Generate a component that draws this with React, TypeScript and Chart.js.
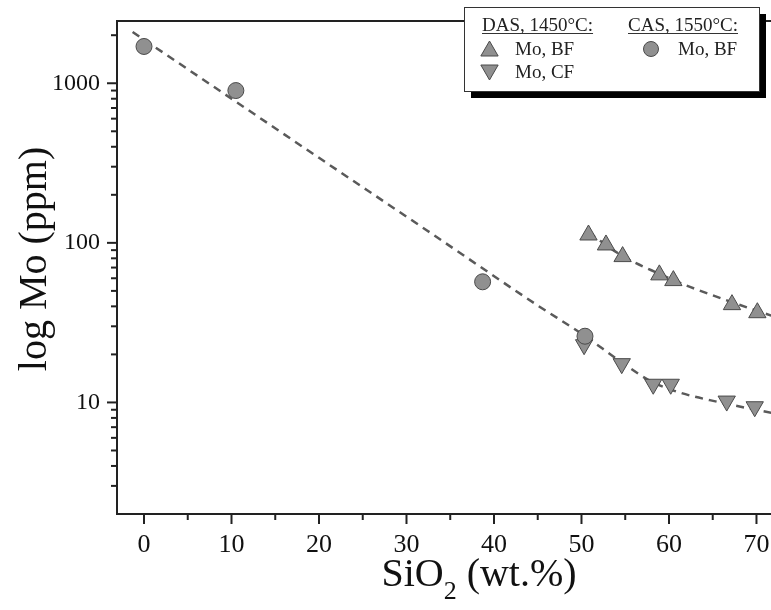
import React, { useEffect, useRef } from 'react';
import { Chart, registerables } from 'chart.js';

Chart.register(...registerables);

// ---- data ----
const CAS_BF_X = [0, 10.5, 38.7, 50.4];
const CAS_BF_Y = [1700, 900, 57, 26];

const DAS_BF_X = [50.8, 52.8, 54.7, 58.9, 60.5, 67.2, 70.1];
const DAS_BF_Y = [112, 97, 82, 63, 58, 41, 36.5];

const DAS_CF_X = [50.3, 54.6, 58.2, 60.2, 66.6, 69.8];
const DAS_CF_Y = [23, 17.5, 13, 13, 10.2, 9.4];

const FIT_LOW_X = [-1.3, 10, 20, 32.3, 45, 50, 55, 58, 61.3, 65.5, 71.7];
const FIT_LOW_Y = [2094, 800, 341, 120, 40.5, 27, 17.2, 13.5, 11.5, 10.1, 8.6];

const FIT_HIGH_X = [50.8, 54.8, 58.9, 62.4, 67.2, 71.7];
const FIT_HIGH_Y = [116, 82, 64, 53, 42.5, 35];

const X_MAJOR_TICKS = [0, 10, 20, 30, 40, 50, 60, 70];
const X_MINOR_TICKS = [5, 15, 25, 35, 45, 55, 65];
const Y_MAJOR_TICKS = [10, 100, 1000];
const Y_MINOR_TICKS = [3, 4, 5, 6, 7, 8, 9, 20, 30, 40, 50, 60, 70, 80, 90, 200, 300, 400, 500, 600, 700, 800, 900, 2000];

const X_TITLE_MAIN = 'SiO';
const X_TITLE_SUB = '2';
const X_TITLE_REST = ' (wt.%)';
const Y_TITLE = 'log Mo (ppm)';
const LEGEND_HEAD_1 = 'DAS, 1450°C:';
const LEGEND_HEAD_2 = 'CAS, 1550°C:';
const LEGEND_BF = 'Mo, BF';
const LEGEND_CF = 'Mo, CF';

const FONT = "'Liberation Serif', 'Times New Roman', serif";
const MARKER_FILL = '#909090';
const MARKER_EDGE = '#4a4a4a';
const FIT_COLOR = '#5a5a5a';

const pts = (xs: number[], ys: number[]) => xs.map((x, i) => ({ x, y: ys[i] }));

function triangle(ctx: CanvasRenderingContext2D, x: number, y: number, r: number, down: boolean) {
  ctx.beginPath();
  for (let k = 0; k < 3; k++) {
    const a = (down ? Math.PI : 0) + (k * 2 * Math.PI) / 3;
    const px = x + Math.sin(a) * r;
    const py = y - Math.cos(a) * r;
    if (k === 0) ctx.moveTo(px, py);
    else ctx.lineTo(px, py);
  }
  ctx.closePath();
  ctx.fillStyle = MARKER_FILL;
  ctx.fill();
  ctx.strokeStyle = MARKER_EDGE;
  ctx.lineWidth = 1;
  ctx.stroke();
}

const decor = {
  id: 'decor',
  afterDraw(chart: any) {
    const { ctx, chartArea: ca, scales } = chart;
    const xs = scales.x;
    const ys = scales.y;
    ctx.save();
    ctx.strokeStyle = '#222';
    ctx.lineWidth = 2;
    const seg = (x1: number, y1: number, x2: number, y2: number) => {
      ctx.beginPath();
      ctx.moveTo(x1, y1);
      ctx.lineTo(x2, y2);
      ctx.stroke();
    };
    // top frame line
    seg(ca.left, ca.top, ca.right, ca.top);
    // tick marks
    Y_MAJOR_TICKS.forEach((v) => {
      const p = ys.getPixelForValue(v);
      seg(ca.left - 10, p, ca.left + 1, p);
    });
    Y_MINOR_TICKS.forEach((v) => {
      const p = ys.getPixelForValue(v);
      seg(ca.left - 6, p, ca.left + 1, p);
    });
    X_MAJOR_TICKS.forEach((v) => {
      const p = xs.getPixelForValue(v);
      seg(p, ca.bottom - 1, p, ca.bottom + 10);
    });
    X_MINOR_TICKS.forEach((v) => {
      const p = xs.getPixelForValue(v);
      seg(p, ca.bottom - 1, p, ca.bottom + 6);
    });

    // axis titles
    ctx.fillStyle = '#111';
    ctx.textBaseline = 'alphabetic';
    ctx.font = `40px ${FONT}`;
    ctx.save();
    ctx.translate(46, 259);
    ctx.rotate(-Math.PI / 2);
    ctx.textAlign = 'center';
    ctx.fillText(Y_TITLE, 0, 0);
    ctx.restore();

    ctx.textAlign = 'left';
    ctx.font = `40px ${FONT}`;
    const w1 = ctx.measureText(X_TITLE_MAIN).width;
    const w3 = ctx.measureText(X_TITLE_REST).width;
    ctx.font = `26px ${FONT}`;
    const w2 = ctx.measureText(X_TITLE_SUB).width;
    const total = w1 + w2 + w3;
    const sx = 479 - total / 2;
    const by = 586;
    ctx.font = `40px ${FONT}`;
    ctx.fillText(X_TITLE_MAIN, sx, by);
    ctx.font = `26px ${FONT}`;
    ctx.fillText(X_TITLE_SUB, sx + w1, by + 13);
    ctx.font = `40px ${FONT}`;
    ctx.fillText(X_TITLE_REST, sx + w1 + w2, by);

    // legend box with shadow
    const bx = 464, bw = 295, by0 = 7, bh = 84;
    ctx.fillStyle = '#000';
    ctx.fillRect(bx + 7, by0 + 7, bw, bh);
    ctx.fillStyle = '#fff';
    ctx.fillRect(bx, by0, bw, bh);
    ctx.strokeStyle = '#333';
    ctx.lineWidth = 1;
    ctx.strokeRect(bx + 0.5, by0 + 0.5, bw, bh);

    ctx.fillStyle = '#222';
    ctx.font = `19px ${FONT}`;
    ctx.textAlign = 'left';
    const head = (t: string, x: number, y: number) => {
      ctx.fillText(t, x, y);
      const w = ctx.measureText(t).width;
      ctx.strokeStyle = '#333';
      ctx.lineWidth = 1;
      ctx.beginPath();
      ctx.moveTo(x, y + 2.5);
      ctx.lineTo(x + w, y + 2.5);
      ctx.stroke();
    };
    head(LEGEND_HEAD_1, 482, 31);
    head(LEGEND_HEAD_2, 628, 31);
    ctx.fillStyle = '#222';
    ctx.fillText(LEGEND_BF, 515, 55);
    ctx.fillText(LEGEND_CF, 515, 78);
    ctx.fillText(LEGEND_BF, 678, 55);
    triangle(ctx, 489.5, 51, 10, false);
    triangle(ctx, 489.5, 70, 10, true);
    ctx.beginPath();
    ctx.arc(651, 49, 7.5, 0, Math.PI * 2);
    ctx.fillStyle = MARKER_FILL;
    ctx.fill();
    ctx.strokeStyle = MARKER_EDGE;
    ctx.lineWidth = 1;
    ctx.stroke();
    ctx.restore();
  },
};

export default function App() {
  const ref = useRef<HTMLCanvasElement | null>(null);
  useEffect(() => {
    if (!ref.current) return;
    const chart = new Chart(ref.current, {
      type: 'scatter',
      data: {
        datasets: [
          {
            label: 'CAS Mo BF',
            data: pts(CAS_BF_X, CAS_BF_Y),
            pointStyle: 'circle',
            pointRadius: 8,
            backgroundColor: MARKER_FILL,
            borderColor: MARKER_EDGE,
            borderWidth: 1,
            clip: false,
          },
          {
            label: 'DAS Mo BF',
            data: pts(DAS_BF_X, DAS_BF_Y),
            pointStyle: 'triangle',
            pointRadius: 10,
            backgroundColor: MARKER_FILL,
            borderColor: MARKER_EDGE,
            borderWidth: 1,
            clip: false,
          },
          {
            label: 'DAS Mo CF',
            data: pts(DAS_CF_X, DAS_CF_Y),
            pointStyle: 'triangle',
            rotation: 180,
            pointRadius: 10,
            backgroundColor: MARKER_FILL,
            borderColor: MARKER_EDGE,
            borderWidth: 1,
            clip: false,
          },
          {
            label: 'fit low',
            data: pts(FIT_LOW_X, FIT_LOW_Y),
            showLine: true,
            pointRadius: 0,
            borderColor: FIT_COLOR,
            borderWidth: 2.5,
            borderDash: [8, 6],
            cubicInterpolationMode: 'monotone',
          } as any,
          {
            label: 'fit high',
            data: pts(FIT_HIGH_X, FIT_HIGH_Y),
            showLine: true,
            pointRadius: 0,
            borderColor: FIT_COLOR,
            borderWidth: 2.5,
            borderDash: [8, 6],
            cubicInterpolationMode: 'monotone',
          } as any,
        ],
      },
      options: {
        responsive: false,
        animation: false,
        layout: { autoPadding: false, padding: { top: 21, left: 0, right: 0, bottom: 0 } },
        plugins: { legend: { display: false }, tooltip: { enabled: false } },
        scales: {
          x: {
            type: 'linear',
            min: -3.086,
            max: 71.66,
            grid: { display: false, drawTicks: false },
            border: { display: true, color: '#222', width: 2 },
            ticks: {
              stepSize: 10,
              includeBounds: false,
              autoSkip: false,
              maxRotation: 0,
              padding: 16,
              color: '#111',
              font: { family: FONT, size: 26 },
            },
            afterFit: (s: any) => {
              s.height = 96;
              s.paddingLeft = 0;
              s.paddingRight = 0;
            },
          },
          y: {
            type: 'logarithmic',
            min: 2,
            max: 2455,
            grid: { display: false, drawTicks: false },
            border: { display: true, color: '#222', width: 2 },
            ticks: {
              autoSkip: false,
              padding: 17,
              color: '#111',
              font: { family: FONT, size: 24 },
              callback: (v: any) => (Y_MAJOR_TICKS.includes(Number(v)) ? String(v) : ''),
            },
            afterFit: (s: any) => {
              s.width = 117;
              s.paddingTop = 0;
              s.paddingBottom = 0;
            },
          },
        },
      } as any,
      plugins: [decor],
    });
    return () => chart.destroy();
  }, []);
  return (
    <div style={{ position: 'fixed', left: 0, top: 0, width: 771, height: 610, background: '#fff' }}>
      <canvas ref={ref} width={771} height={610} style={{ display: 'block' }} />
    </div>
  );
}
